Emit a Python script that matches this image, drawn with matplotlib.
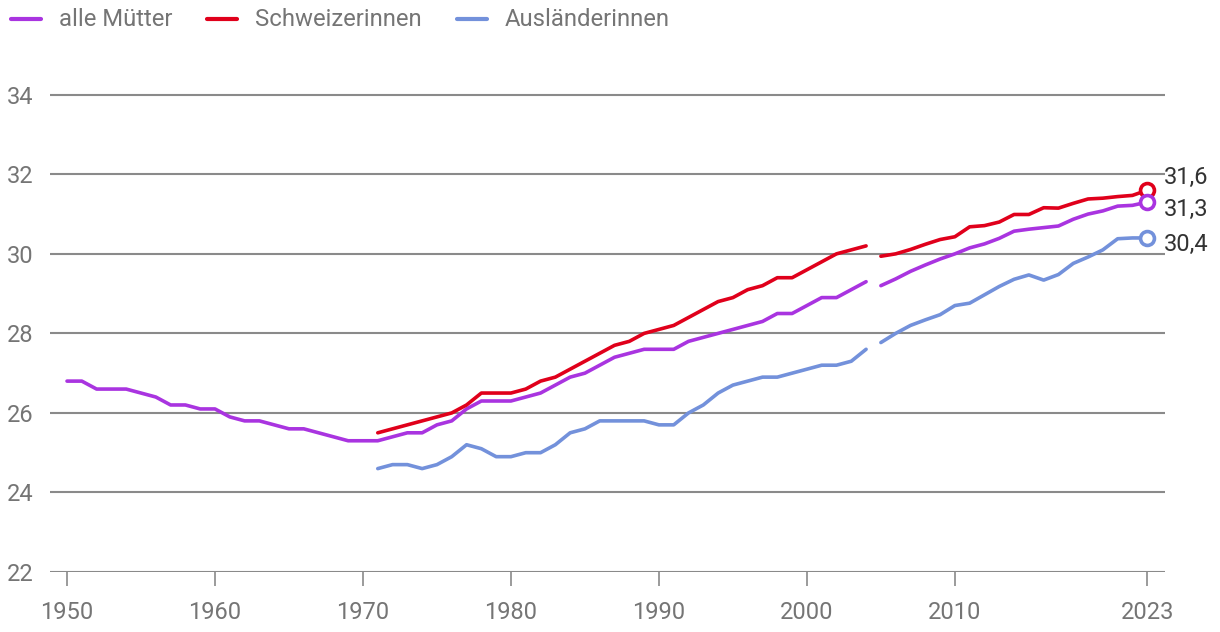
import numpy as np
import matplotlib
matplotlib.use("Agg")
import matplotlib.pyplot as plt
from matplotlib.lines import Line2D

plt.rcParams['font.family'] = ['Roboto', 'DejaVu Sans']

years = list(range(1950, 2024))
alle = [26.8, 26.8, 26.6, 26.6, 26.6, 26.5, 26.4, 26.2, 26.2, 26.1,
        26.1, 25.9, 25.8, 25.8, 25.7, 25.6, 25.6, 25.5, 25.4, 25.3,
        25.3, 25.3, 25.4, 25.5, 25.5, 25.7, 25.8, 26.1, 26.3, 26.3,
        26.3, 26.4, 26.5, 26.7, 26.9, 27.0, 27.2, 27.4, 27.5, 27.6,
        27.6, 27.6, 27.8, 27.9, 28.0, 28.1, 28.2, 28.3, 28.5, 28.5,
        28.7, 28.9, 28.9, 29.1, 29.3,
        29.2, 29.37, 29.56, 29.72, 29.87, 30.0, 30.15, 30.25, 30.39, 30.57,
        30.62, 30.66, 30.7, 30.87, 31.0, 31.08, 31.2, 31.22, 31.3]
schweiz = [np.nan] * 21 + [
        25.5, 25.6, 25.7, 25.8, 25.9, 26.0, 26.2, 26.5, 26.5,
        26.5, 26.6, 26.8, 26.9, 27.1, 27.3, 27.5, 27.7, 27.8, 28.0,
        28.1, 28.2, 28.4, 28.6, 28.8, 28.9, 29.1, 29.2, 29.4, 29.4,
        29.6, 29.8, 30.0, 30.1, 30.2,
        29.94, 30.0, 30.11, 30.24, 30.36, 30.43, 30.68, 30.71, 30.8, 30.99,
        30.99, 31.16, 31.15, 31.27, 31.38, 31.4, 31.44, 31.47, 31.6]
ausl = [np.nan] * 21 + [
        24.6, 24.7, 24.7, 24.6, 24.7, 24.9, 25.2, 25.1, 24.9,
        24.9, 25.0, 25.0, 25.2, 25.5, 25.6, 25.8, 25.8, 25.8, 25.8,
        25.7, 25.7, 26.0, 26.2, 26.5, 26.7, 26.8, 26.9, 26.9, 27.0,
        27.1, 27.2, 27.2, 27.3, 27.6,
        27.77, 28.0, 28.2, 28.34, 28.47, 28.7, 28.76, 28.97, 29.18, 29.36,
        29.47, 29.34, 29.48, 29.76, 29.92, 30.1, 30.38, 30.4, 30.4]

labels = ['alle Mütter', 'Schweizerinnen', 'Ausländerinnen']
colors = ['#a934e0', '#e0001b', '#7391db']
series = [alle, schweiz, ausl]
xticks = [1950, 1960, 1970, 1980, 1990, 2000, 2010, 2023]
yticks = [22, 24, 26, 28, 30, 32, 34]

W, H = 1220, 632
fig = plt.figure(figsize=(W / 100, H / 100), dpi=100)
# 22 sits at y=572px, 34 at y=95px
ax = fig.add_axes([50 / W, (H - 572) / H, 1115 / W, (572 - 57) / H])

yrs = np.array(years)
brk = yrs <= 2004   # series break between 2004 and 2005
for vals, col in zip(series, colors):
    v = np.array(vals, dtype=float)
    ax.plot(yrs[brk], v[brk], color=col, lw=2.6, solid_capstyle='round', zorder=3)
    ax.plot(yrs[~brk], v[~brk], color=col, lw=2.6, solid_capstyle='round', zorder=3)

# end markers + value labels
offsets = [-5, 9.5, -5]
for i in [1, 0, 2]:
    v = series[i][-1]
    ax.plot(years[-1], v, 'o', ms=10, mfc='white', mec=colors[i], mew=2.6,
            zorder=4, clip_on=False)
    ax.annotate(f"{v:.1f}".replace('.', ','), (years[-1], v),
                xytext=(12, offsets[i]), textcoords='offset points',
                ha='left', va='center', fontsize=17, color='#333333',
                annotation_clip=False)

ax.set_xlim(1948.85, 2024.2)
ax.set_ylim(22, 34.95)
ax.set_yticks(yticks)
ax.set_xticks(xticks)
ax.grid(axis='y', color='#8a8a8a', lw=1.5)
ax.set_axisbelow(True)
for s in ['top', 'right', 'left', 'bottom']:
    ax.spines[s].set_visible(False)
ax.tick_params(axis='y', length=0, pad=12, labelsize=17, labelcolor='#757575')
ax.tick_params(axis='x', length=10, width=1.2, color='#8a8a8a', pad=11,
               labelsize=17, labelcolor='#757575')

# legend drawn by hand across the top
lx = [11, 207, 457]
for x0, lab, col in zip(lx, labels, colors):
    fig.add_artist(Line2D([x0 / W, (x0 + 30) / W], [1 - 19 / H, 1 - 19 / H],
                          color=col, lw=3, solid_capstyle='round'))
    fig.text((x0 + 48) / W, 1 - 19 / H, lab, fontsize=17.2, color='#757575',
             va='center', ha='left')

fig.savefig('out.png', dpi=100)
